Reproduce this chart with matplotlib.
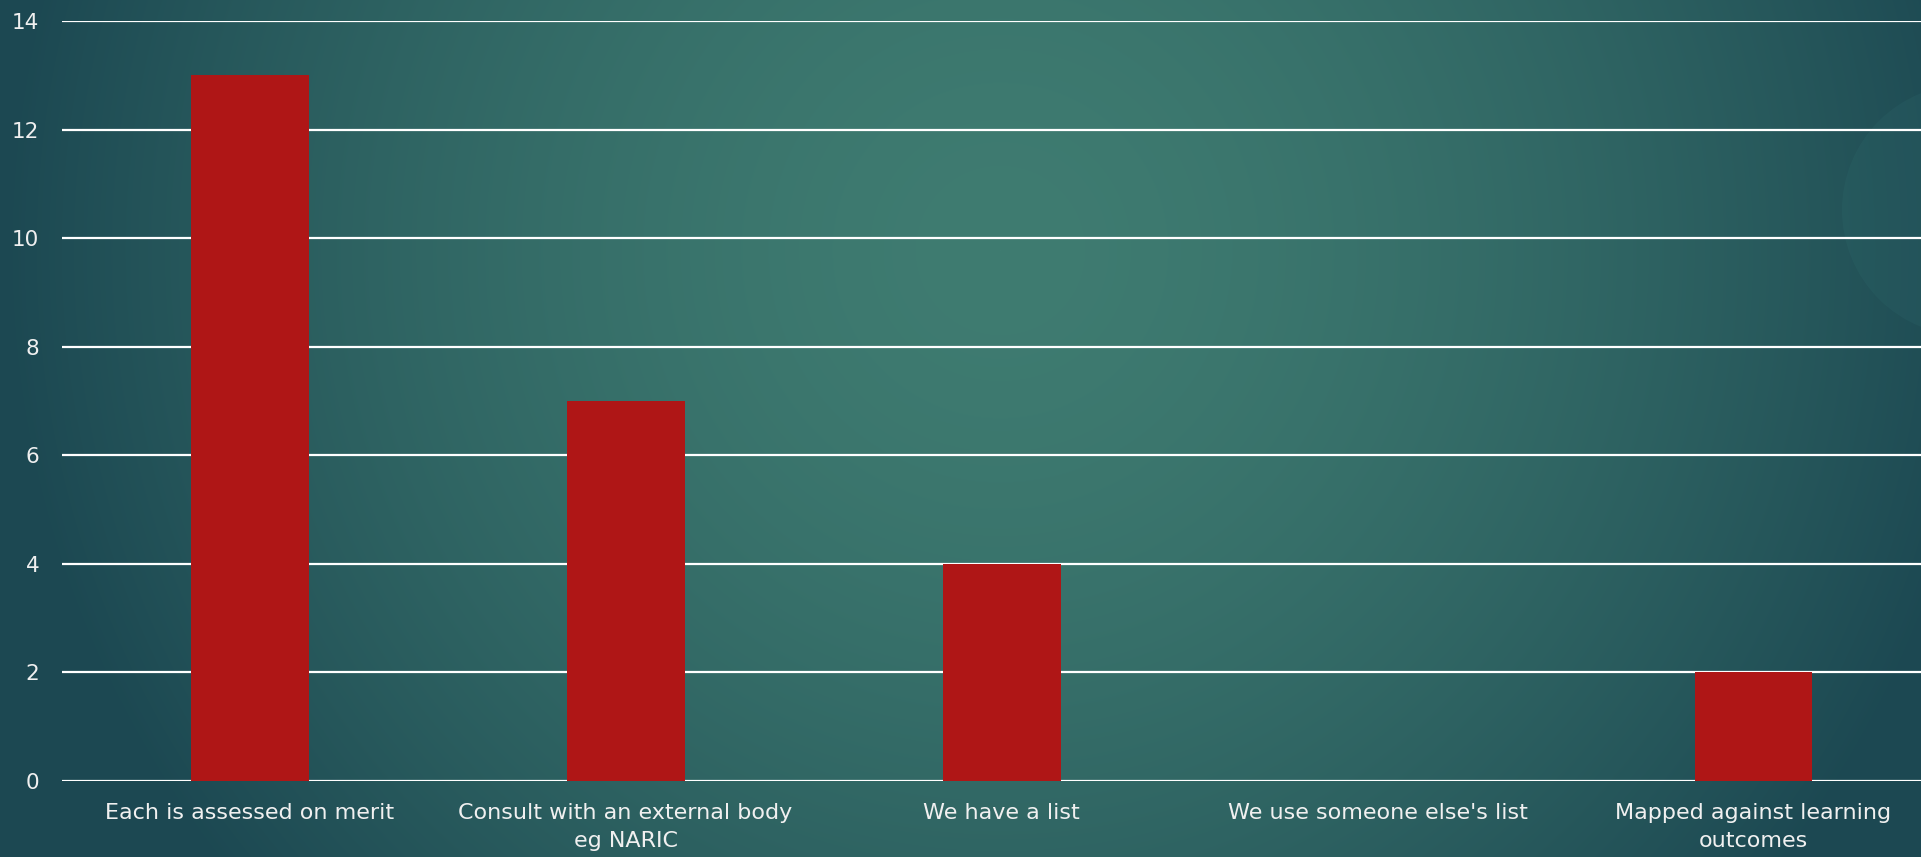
import numpy as np
import matplotlib
matplotlib.use("Agg")
import matplotlib.pyplot as plt
from matplotlib.patches import Circle

# Survey answers and how many respondents picked each
categories = [
    "Each is assessed on merit",
    "Consult with an external body\neg NARIC",
    "We have a list",
    "We use someone else's list",
    "Mapped against learning\noutcomes",
]
counts = [13, 7, 4, 0, 2]
y_ticks = [0, 2, 4, 6, 8, 10, 12, 14]

W, H, DPI = 1921, 857, 100
bar_color = "#AF1616"
text_color = "#F0F0F0"

fig = plt.figure(figsize=(W / DPI, H / DPI), dpi=DPI)

# teal radial background
bg = fig.add_axes([0, 0, 1, 1])
bg.set_axis_off()
xx, yy = np.meshgrid(np.arange(W), np.arange(H))
d = np.sqrt(((xx - 1000) / 1000.0) ** 2 + ((yy - 250) / 1000.0) ** 2)
t = np.clip(d, 0, 1) ** 1.6
c0 = np.array([0x3F, 0x7C, 0x71]) / 255.0
c1 = np.array([0x1C, 0x48, 0x52]) / 255.0
img = c0[None, None, :] * (1 - t[..., None]) + c1[None, None, :] * t[..., None]
bg.imshow(img, extent=(0, W, H, 0), aspect="auto")
bg.add_patch(Circle((1968, 210), 126, color="#3A8080", alpha=0.12, lw=0))
bg.set_xlim(0, W)
bg.set_ylim(H, 0)

# chart area
left, bottom, top = 61.5, 76, 21
cat_w = 376.0
ax = fig.add_axes([left / W, bottom / H, (W - left) / W, (H - bottom - top) / H])
ax.patch.set_alpha(0)
x = np.arange(len(categories))
ax.bar(x, counts, width=118 / cat_w, color=bar_color, zorder=3)
ax.set_xlim(-0.5, (W - left) / cat_w - 0.5)
ax.set_ylim(0, 14)
ax.set_yticks(y_ticks)
ax.set_xticks(x)
ax.set_xticklabels(categories, linespacing=1.5)
ax.yaxis.grid(True, color="white", lw=1.6, zorder=1)
ax.set_axisbelow(True)
for s in ax.spines.values():
    s.set_visible(False)
ax.tick_params(axis="both", length=0, colors=text_color, labelsize=16)
ax.tick_params(axis="y", labelsize=15.5, pad=16)
ax.tick_params(axis="x", pad=16)
for lbl in ax.get_xticklabels() + ax.get_yticklabels():
    lbl.set_fontfamily("DejaVu Sans")

fig.savefig("out.png", dpi=DPI)
